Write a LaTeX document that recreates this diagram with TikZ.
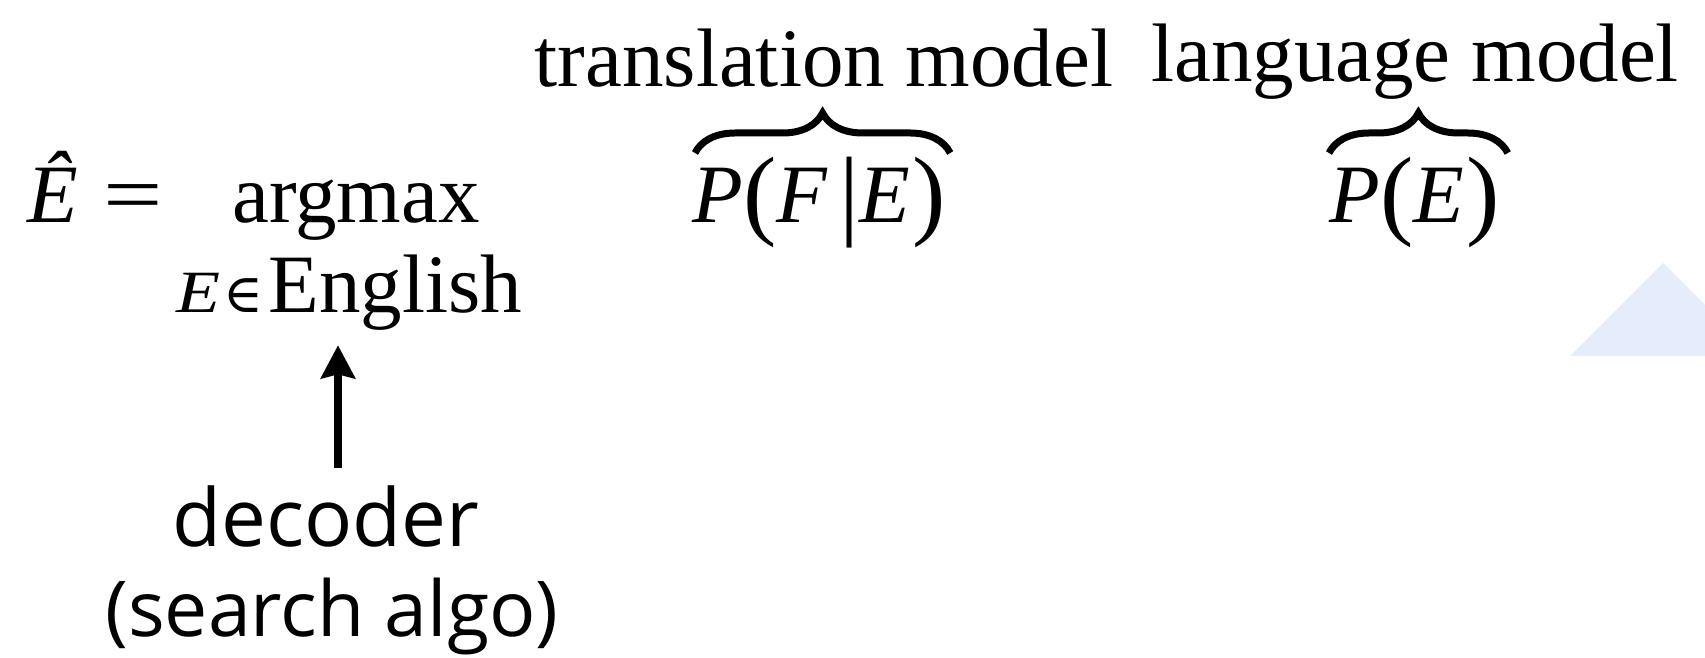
\documentclass[tikz,border=0pt]{standalone}
\usepackage{fontspec}
\setmainfont{Liberation Serif}
\newfontfamily\labelfont{Open Sans}
\newfontfamily\symbfont{DejaVu Serif}
\usetikzlibrary{decorations.pathreplacing,arrows.meta}
\definecolor{paleblue}{HTML}{E5ECFB}
\newcommand{\bigpar}[1]{{\fontsize{50}{50}\selectfont\raisebox{-2pt}{#1}}}

\begin{document}
\begin{tikzpicture}[x=0.5pt,y=0.5pt,
  every node/.style={inner sep=0pt,font=\fontsize{41.5}{48}\selectfont},
  algo/.style={font=\labelfont\fontsize{40}{46}\selectfont},
  overbr/.style={decorate,decoration={brace,amplitude=20pt},line width=3.5pt}]
\useasboundingbox (0,0) rectangle (1705,658);
\fill[paleblue] (1570,302) -- (1663,395) -- (1705,353) -- (1705,302) -- cycle;

% the formula
\node[anchor=base west] (ehat) at (27,435) {\textit{Ê}};
\node[anchor=base west] (eq) at (103,435) {\scalebox{1.27}[1]{=}};
\node[anchor=base west] (argmax) at (232,435) {argmax};
\node[anchor=base west] (english) at (268,345) {English};
\node[anchor=base east,font=\fontsize{30}{34}\selectfont] (elem) at ([xshift=-2pt]english.base west) {\scalebox{1.2}[1]{\textit{E}}\hspace{1.5pt}{\symbfont\fontsize{27}{30}\selectfont ∈}};
\node[anchor=base west] (pfe) at (692,435) {\textit{P}\bigpar{(}\textit{F}\hspace{6pt}\bigpar{|}\textit{E}\hspace{1pt}\bigpar{)}};
\node[anchor=base west] (pe) at (1329,435) {\textit{P}\bigpar{(}\textit{E}\hspace{1pt}\bigpar{)}};

% labels over the braces
\node[anchor=base] (tmodel) at (824,571) {translation model};
\node[anchor=base] (lmodel) at (1415,576) {language model};
\draw[overbr] ([xshift=1.5pt,yshift=35pt]pfe.base west) -- ([xshift=2pt,yshift=35pt]pfe.base east);
\draw[overbr] ([yshift=35pt]pe.base west) -- ([xshift=4pt,yshift=35pt]pe.base east);

% decoder
\node[algo,anchor=base] (decoder) at (326,111) {decoder};
\node[algo,anchor=base,font=\labelfont\fontsize{38.5}{44}\selectfont] (search) at (332,21) {(search algo)};
\draw[line width=4pt,-{Stealth[length=16.5pt,width=17pt,inset=2pt]}] ([xshift=6pt,yshift=9pt]decoder.north) -- ([xshift=6pt,yshift=-7pt]decoder.north |- english.south);
\end{tikzpicture}
\end{document}
